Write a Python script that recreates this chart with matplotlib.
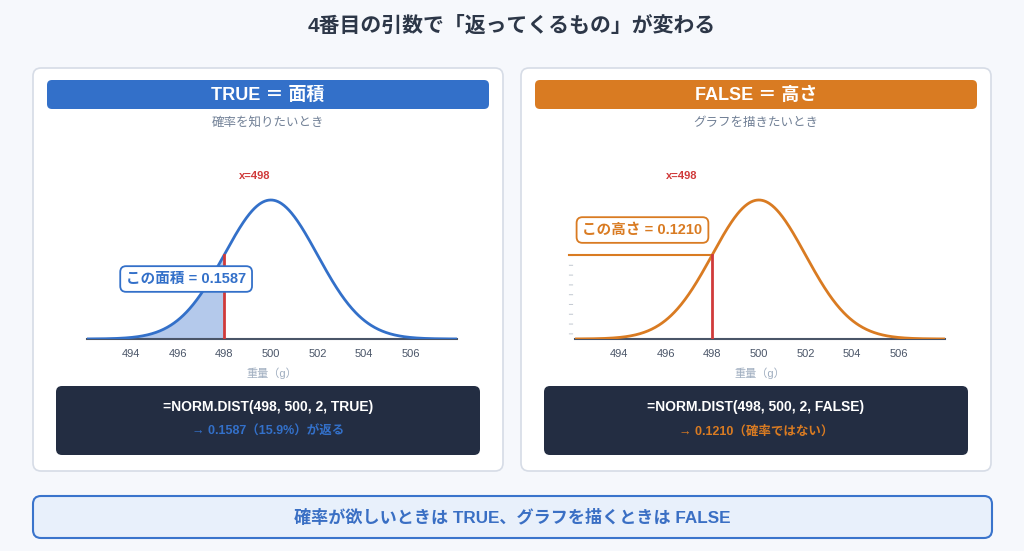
import numpy as np
import matplotlib.pyplot as plt
from matplotlib.patches import FancyBboxPatch

plt.rcParams['font.family'] = ['Liberation Sans', 'Noto Sans CJK JP', 'DejaVu Sans']

# chart data
mu = 500
sigma = 2
x_point = 498
area_value = 0.1587
height_value = 0.1210
tick_values = [494, 496, 498, 500, 502, 504, 506]
title = "4番目の引数で「返ってくるもの」が変わる"
panel_titles = ["TRUE ＝ 面積", "FALSE ＝ 高さ"]
panel_subtitles = ["確率を知りたいとき", "グラフを描きたいとき"]
box_labels = [f"この面積 = {area_value:.4f}", f"この高さ = {height_value:.4f}"]
formulas = ["=NORM.DIST(498, 500, 2, TRUE)", "=NORM.DIST(498, 500, 2, FALSE)"]
results = ["→ 0.1587（15.9%）が返る", "→ 0.1210（確率ではない）"]
footer = "確率が欲しいときは TRUE、グラフを描くときは FALSE"

BLUE = "#3370c9"
ORANGE = "#d97b22"
RED = "#d03a3a"
NAVY = "#232d42"
BG = "#f6f8fc"

W, H = 1024, 551
fig = plt.figure(figsize=(W / 100, H / 100), dpi=100, facecolor=BG)
bg = fig.add_axes([0, 0, 1, 1])
bg.set_xlim(0, W)
bg.set_ylim(H, 0)
bg.axis("off")


def rbox(x0, y0, x1, y1, fc, ec="none", lw=1.0, r=6):
    bg.add_patch(FancyBboxPatch((x0, y0), x1 - x0, y1 - y0,
                                boxstyle=f"round,pad=0,rounding_size={r}",
                                fc=fc, ec=ec, lw=lw))


bg.text(512, 26, title, ha="center", va="center", fontsize=15,
        fontweight="bold", color="#2d3748")

xs = np.linspace(492.1, 508.0, 600)
pdf = np.exp(-0.5 * ((xs - mu) / sigma) ** 2) / (sigma * np.sqrt(2 * np.pi))
peak = 1 / (sigma * np.sqrt(2 * np.pi))
pdf_x = np.exp(-0.5 * ((x_point - mu) / sigma) ** 2) / (sigma * np.sqrt(2 * np.pi))

panels = [
    dict(x0=33, color=BLUE, label_x=499.3, box_xy=(496.36, 0.0861)),
    dict(x0=521, color=ORANGE, label_x=496.7, box_xy=(495.0, 0.1564)),
]

for i, p in enumerate(panels):
    x0 = p["x0"]
    c = p["color"]
    rbox(x0, 68, x0 + 470, 471, "white", "#d6dce6", 1.2, 8)
    rbox(x0 + 14, 80, x0 + 456, 109, c, r=5)
    bg.text(x0 + 235, 95, panel_titles[i], ha="center", va="center",
            fontsize=13, fontweight="bold", color="white")
    bg.text(x0 + 235, 123, panel_subtitles[i], ha="center", va="center",
            fontsize=9, color="#718096")
    rbox(x0 + 23, 386, x0 + 447, 455, NAVY, r=6)
    bg.text(x0 + 235, 407, formulas[i], ha="center", va="center",
            fontsize=10, fontweight="bold", color="white")
    bg.text(x0 + 235, 432, results[i], ha="center", va="center",
            fontsize=9, fontweight="bold", color=c)

    ax_left = x0 + 54
    ax = fig.add_axes([ax_left / W, (H - 339) / H, 370 / W, 189 / H])
    ax.set_facecolor("none")
    ax.plot(xs, pdf, color=c, lw=2, zorder=3)
    ax.set_xlim(492.1, 508.0)
    ax.set_ylim(0, peak * 189 / 139)
    if i == 0:
        m = xs <= x_point
        ax.fill_between(xs[m], 0, pdf[m], color="#b4c9eb", lw=0, zorder=2)
    else:
        ax.plot([491.85, x_point], [pdf_x, pdf_x], color=c, lw=1.5,
                clip_on=False, zorder=2)
        ax.plot([491.92, 491.92], [pdf_x, 0], color="#c5cbd3", lw=3,
                dashes=(0.25, 2.1), solid_capstyle="butt",
                dash_capstyle="butt", clip_on=False, zorder=1)
    ax.plot([x_point, x_point], [0, pdf_x], color=RED, lw=2, zorder=4)
    ax.text(p["label_x"], peak * 1.17, f"x={x_point}", ha="center",
            va="center", fontsize=8, fontweight="bold", color=RED)
    ax.text(p["box_xy"][0], p["box_xy"][1], box_labels[i], ha="center",
            va="center", fontsize=10.5, fontweight="bold", color=c, zorder=6,
            bbox=dict(boxstyle="round,pad=0.4,rounding_size=0.4",
                      fc="white", ec=c, lw=1.3))
    for s in ["top", "right", "left"]:
        ax.spines[s].set_visible(False)
    ax.spines["bottom"].set_color("#4a5568")
    ax.spines["bottom"].set_linewidth(1.5)
    ax.set_yticks([])
    ax.set_xticks(tick_values)
    ax.tick_params(axis="x", length=0, pad=7, labelsize=8,
                   labelcolor="#4a5568")
    ax.set_xlabel("重量（g）", fontsize=8, color="#a0aec0", labelpad=6)

rbox(33, 496, 992, 538, "#e8f0fb", "#3a74cc", 1.5, 8)
bg.text(512, 517, footer, ha="center", va="center", fontsize=12.3,
        fontweight="bold", color="#3a6fc4")

fig.savefig("out.png", dpi=100, facecolor=BG)
